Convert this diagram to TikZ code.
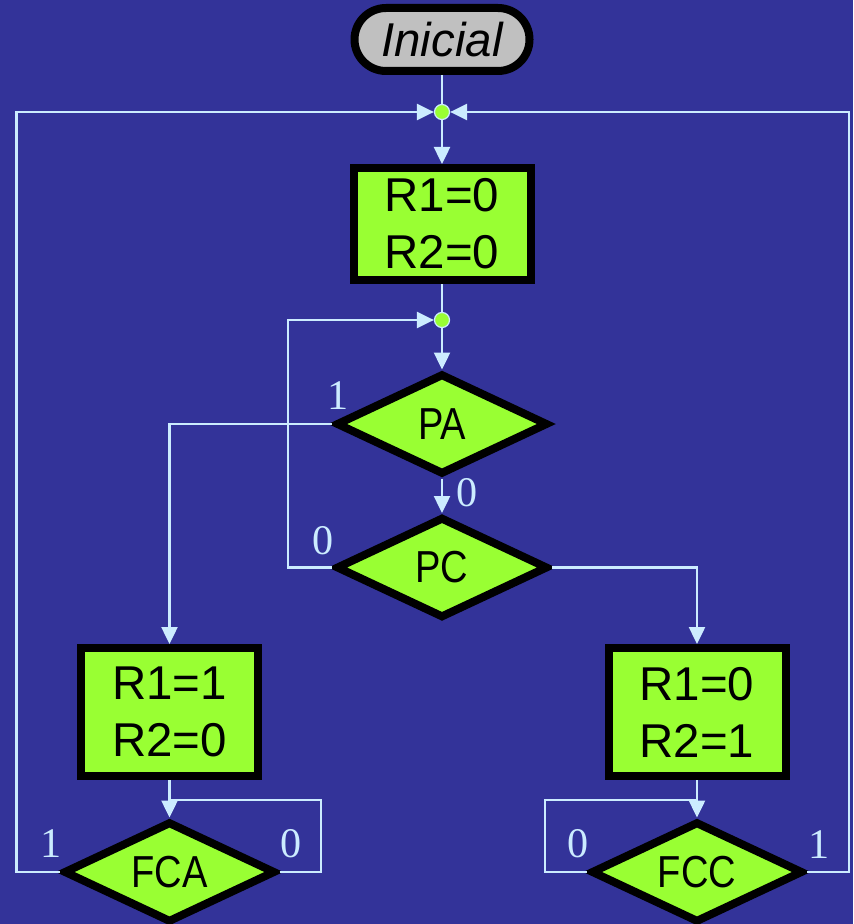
\documentclass[tikz,border=0pt]{standalone}
\usepackage{fontspec}
\setmainfont{Liberation Serif}
\setsansfont{Liberation Sans}
\usepackage{graphicx}
\usetikzlibrary{arrows.meta,positioning,shapes.geometric}
\definecolor{bgblue}{RGB}{51,51,153}
\definecolor{boxgreen}{RGB}{153,255,51}
\definecolor{wireblue}{RGB}{204,236,255}
\definecolor{startgrey}{RGB}{192,192,192}

\begin{document}
\begin{tikzpicture}[
			box/.style={rectangle, draw=black, fill=boxgreen, line width=0.16cm, minimum width=3.54cm, minimum height=2.24cm, inner sep=0pt, align=center, font=\fontsize{27}{32.4}\selectfont\sffamily},
			decision/.style={diamond, draw=black, fill=boxgreen, line width=0.16cm, minimum width=4.24cm, minimum height=2.02cm, shape aspect=2.1, inner sep=0pt, font=\fontsize{25.5}{30}\selectfont\sffamily},
			initbox/.style={rectangle, rounded corners=0.63cm, draw=black, fill=startgrey, line width=0.16cm, minimum width=3.5cm, minimum height=1.26cm, inner sep=0pt, font=\fontsize{27}{32}\selectfont\sffamily\itshape},
			junc/.style={circle, draw=wireblue, fill=boxgreen, line width=0.7pt, minimum size=0.3cm, inner sep=0pt},
			wire/.style={draw=wireblue, line width=1.4pt},
			arrow/.style={wire, -{Triangle[length=0.34cm,width=0.32cm]}},
			lbl/.style={text=wireblue, inner sep=0pt, font=\fontsize{24}{28}\selectfont}
			]
			% Background
			\fill[bgblue] (0,0) rectangle (17.06,-18.48);
			\useasboundingbox (0,0) rectangle (17.06,-18.48);
			
			% Nodes
			\node[initbox] (init) at (8.84,-0.79) {Inicial};
			\node[junc] (j1) at (8.84,-2.24) {};
			\node[box] (b1) at (8.84,-4.48) {R1=0\\R2=0};
			\node[junc] (j2) at (8.84,-6.40) {};
			\node[decision] (pa) at (8.84,-8.48) {\scalebox{0.85}[1]{PA}};
			\node[decision] (pc) at (8.84,-11.35) {\scalebox{0.85}[1]{PC}};
			\node[box, minimum height=2.56cm] (b2) at (3.39,-14.24) {R1=1\\R2=0};
			\node[box, minimum height=2.56cm] (b3) at (13.94,-14.24) {R1=0\\R2=1};
			\node[decision] (fca) at (3.39,-17.44) {\scalebox{0.85}[1]{FCA}};
			\node[decision] (fcc) at (13.94,-17.44) {\scalebox{0.85}[1]{FCC}};
			
			% Loop rails
			\coordinate (railL) at (0.33,0);
			\coordinate (railR) at (16.98,0);
			\coordinate (railPC) at (5.76,0);
			\coordinate (railFCA) at (6.42,0);
			\coordinate (railFCC) at (10.90,0);
			\coordinate (fcain) at (3.39,-16.00);
			\coordinate (fccin) at (13.94,-16.00);
			
			% Arrows
			\draw[wire] (init) -- (j1);
			\draw[arrow] (j1) -- (b1);
			\draw[wire] (b1) -- (j2);
			\draw[arrow] (j2) -- (pa);
			\draw[arrow] (pa) -- (pc);
			\draw[arrow] (pa.west) -| (b2.north);
			\draw[arrow] (pc.west) -- (pc.west -| railPC) |- (j2);
			\draw[arrow] (pc.east) -| (b3.north);
			\draw[arrow] (b2) -- (fca);
			\draw[arrow] (b3) -- (fcc);
			\draw[wire] (fca.east) -- (fca.east -| railFCA) |- (fcain);
			\draw[wire] (fcc.west) -- (fcc.west -| railFCC) |- (fccin);
			\draw[arrow] (fca.west) -- (fca.west -| railL) |- (j1);
			\draw[arrow] (fcc.east) -- (fcc.east -| railR) |- (j1);
			
			% Labels
			\node[lbl] (lpa1) at (6.76,-7.92) {1};
			\node[lbl] (lpa0) at (9.34,-9.86) {0};
			\node[lbl] (lpc0) at (6.46,-10.82) {0};
			\node[lbl] (lfca1) at (1.02,-16.88) {1};
			\node[lbl] (lfca0) at (5.82,-16.88) {0};
			\node[lbl] (lfcc0) at (11.56,-16.88) {0};
			\node[lbl] (lfcc1) at (16.38,-16.90) {1};
		\end{tikzpicture}
\end{document}
